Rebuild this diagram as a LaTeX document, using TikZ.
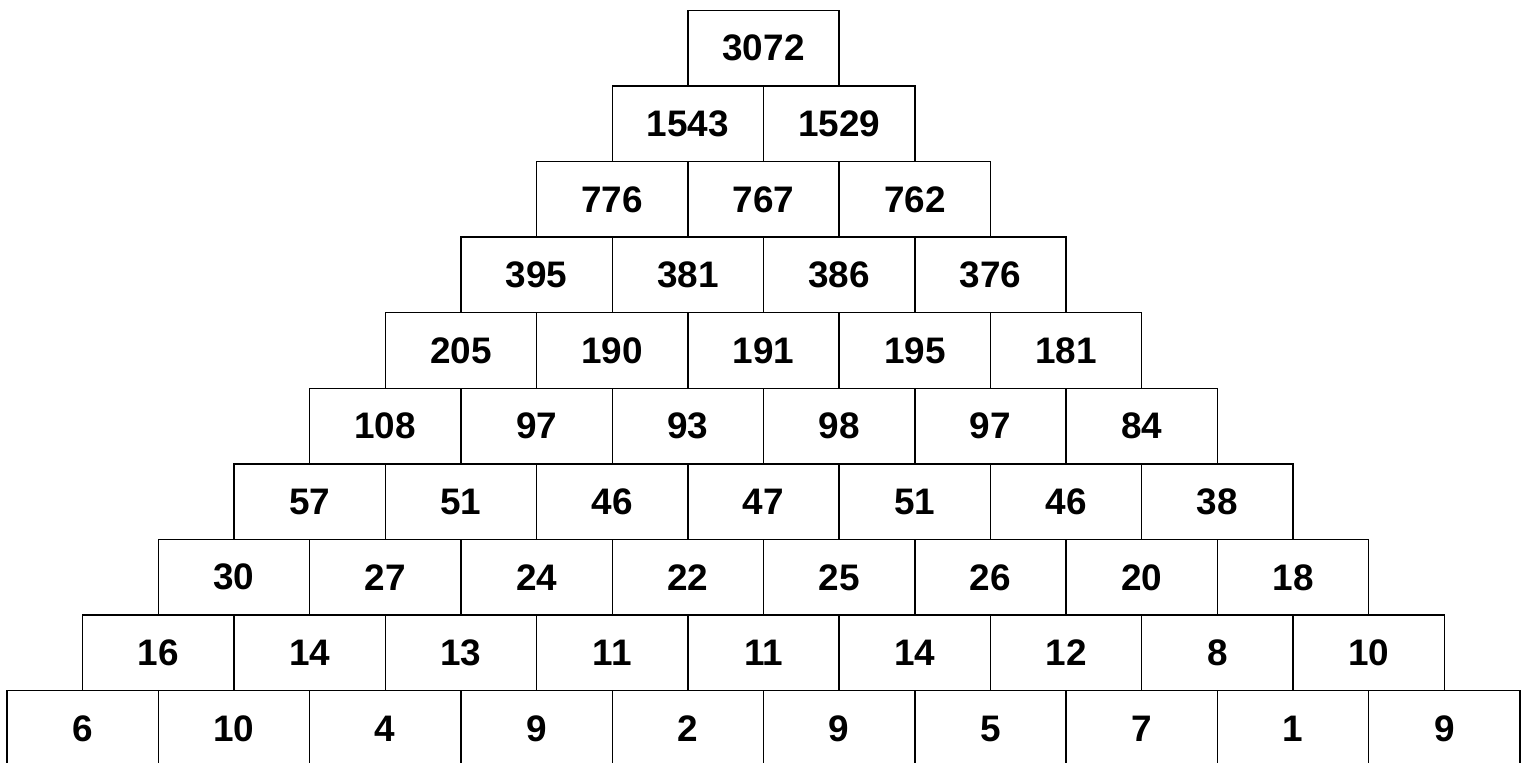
\documentclass[tikz,border=0pt]{standalone}
\usepackage{fontspec}
\setmainfont{Liberation Sans}
\usetikzlibrary{positioning}
\tikzset{
  cell/.style = {
    rectangle,
    draw=black,
    line width=0.8pt,
    minimum width=3.026cm,
    minimum height=1.512cm,
    inner sep=0pt,
    outer sep=0pt,
    font=\fontsize{21}{25}\selectfont\bfseries
  }
}
\begin{document}
\begin{tikzpicture}

\useasboundingbox (0,0) rectangle (30.46,-15.24);
\clip (0,0) rectangle (30.46,-15.24);

% Spitze
\node[cell] (r1c1) at (15.27,-0.962) {3072};

% Reihe 2
\node[cell, anchor=north east] (r2c1) at (r1c1.south) {1543};
\node[cell, right=0pt of r2c1] (r2c2) {1529};

% Reihe 3
\node[cell, anchor=north east] (r3c1) at (r2c1.south) {776};
\node[cell, right=0pt of r3c1] (r3c2) {767};
\node[cell, right=0pt of r3c2] (r3c3) {762};

% Reihe 4
\node[cell, anchor=north east] (r4c1) at (r3c1.south) {395};
\node[cell, right=0pt of r4c1] (r4c2) {381};
\node[cell, right=0pt of r4c2] (r4c3) {386};
\node[cell, right=0pt of r4c3] (r4c4) {376};

% Reihe 5
\node[cell, anchor=north east] (r5c1) at (r4c1.south) {205};
\node[cell, right=0pt of r5c1] (r5c2) {190};
\node[cell, right=0pt of r5c2] (r5c3) {191};
\node[cell, right=0pt of r5c3] (r5c4) {195};
\node[cell, right=0pt of r5c4] (r5c5) {181};

% Reihe 6
\node[cell, anchor=north east] (r6c1) at (r5c1.south) {108};
\node[cell, right=0pt of r6c1] (r6c2) {97};
\node[cell, right=0pt of r6c2] (r6c3) {93};
\node[cell, right=0pt of r6c3] (r6c4) {98};
\node[cell, right=0pt of r6c4] (r6c5) {97};
\node[cell, right=0pt of r6c5] (r6c6) {84};

% Reihe 7
\node[cell, anchor=north east] (r7c1) at (r6c1.south) {57};
\node[cell, right=0pt of r7c1] (r7c2) {51};
\node[cell, right=0pt of r7c2] (r7c3) {46};
\node[cell, right=0pt of r7c3] (r7c4) {47};
\node[cell, right=0pt of r7c4] (r7c5) {51};
\node[cell, right=0pt of r7c5] (r7c6) {46};
\node[cell, right=0pt of r7c6] (r7c7) {38};

% Reihe 8
\node[cell, anchor=north east] (r8c1) at (r7c1.south) {30};
\node[cell, right=0pt of r8c1] (r8c2) {27};
\node[cell, right=0pt of r8c2] (r8c3) {24};
\node[cell, right=0pt of r8c3] (r8c4) {22};
\node[cell, right=0pt of r8c4] (r8c5) {25};
\node[cell, right=0pt of r8c5] (r8c6) {26};
\node[cell, right=0pt of r8c6] (r8c7) {20};
\node[cell, right=0pt of r8c7] (r8c8) {18};

% Reihe 9
\node[cell, anchor=north east] (r9c1) at (r8c1.south) {16};
\node[cell, right=0pt of r9c1] (r9c2) {14};
\node[cell, right=0pt of r9c2] (r9c3) {13};
\node[cell, right=0pt of r9c3] (r9c4) {11};
\node[cell, right=0pt of r9c4] (r9c5) {11};
\node[cell, right=0pt of r9c5] (r9c6) {14};
\node[cell, right=0pt of r9c6] (r9c7) {12};
\node[cell, right=0pt of r9c7] (r9c8) {8};
\node[cell, right=0pt of r9c8] (r9c9) {10};

% Basis
\node[cell, anchor=north east] (r10c1) at (r9c1.south) {6};
\node[cell, right=0pt of r10c1] (r10c2) {10};
\node[cell, right=0pt of r10c2] (r10c3) {4};
\node[cell, right=0pt of r10c3] (r10c4) {9};
\node[cell, right=0pt of r10c4] (r10c5) {2};
\node[cell, right=0pt of r10c5] (r10c6) {9};
\node[cell, right=0pt of r10c6] (r10c7) {5};
\node[cell, right=0pt of r10c7] (r10c8) {7};
\node[cell, right=0pt of r10c8] (r10c9) {1};
\node[cell, right=0pt of r10c9] (r10c10) {9};

\end{tikzpicture}
\end{document}
